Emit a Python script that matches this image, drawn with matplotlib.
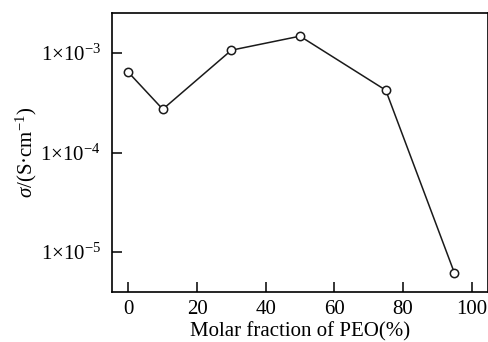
import matplotlib
matplotlib.use('Agg')
import matplotlib.pyplot as plt
from matplotlib.ticker import FixedLocator, FixedFormatter

# 数据
peo_frac = [0, 10, 30, 50, 75, 95]
sigma = [6.4e-4, 2.73e-4, 1.07e-3, 1.48e-3, 4.24e-4, 6.2e-6]
ytick_vals = [1e-3, 1e-4, 1e-5]
ytick_labels = ['1×10$^{-3}$', '1×10$^{-4}$', '1×10$^{-5}$']

plt.rcParams['font.family'] = 'Liberation Serif'
plt.rcParams['mathtext.fontset'] = 'custom'
plt.rcParams['mathtext.rm'] = 'Liberation Serif'
plt.rcParams['mathtext.it'] = 'Liberation Serif:italic'

fig = plt.figure(figsize=(4.89, 3.42), dpi=100)
ax = fig.add_axes([112/489, 1-292/342, (488-112)/489, (292-13)/342])
ax.plot(peo_frac, sigma, '-o', color='#1a1a1a', lw=1.1,
        markerfacecolor='white', markeredgecolor='#1a1a1a', markersize=6, mew=1.1)
ax.set_yscale('log')
ax.set_xlim(-4.8, 104.8)
ax.set_ylim(10**-5.40, 10**-2.597)
ax.yaxis.set_major_locator(FixedLocator(ytick_vals))
ax.yaxis.set_major_formatter(FixedFormatter(ytick_labels))
ax.yaxis.set_minor_locator(FixedLocator([]))
ax.set_xticks([0, 20, 40, 60, 80, 100])
ax.tick_params(direction='in', length=7, width=1.1, labelsize=15, pad=6)
ax.tick_params(axis='y', pad=8)
for s in ax.spines.values():
    s.set_linewidth(1.2)
ax.set_xlabel('Molar fraction of PEO(%)', fontsize=15, labelpad=2)
ax.set_ylabel('$\\mathit{\\sigma}$/(S·cm$^{-1}$)', fontsize=15, labelpad=1)
fig.savefig('out.png', dpi=100)
